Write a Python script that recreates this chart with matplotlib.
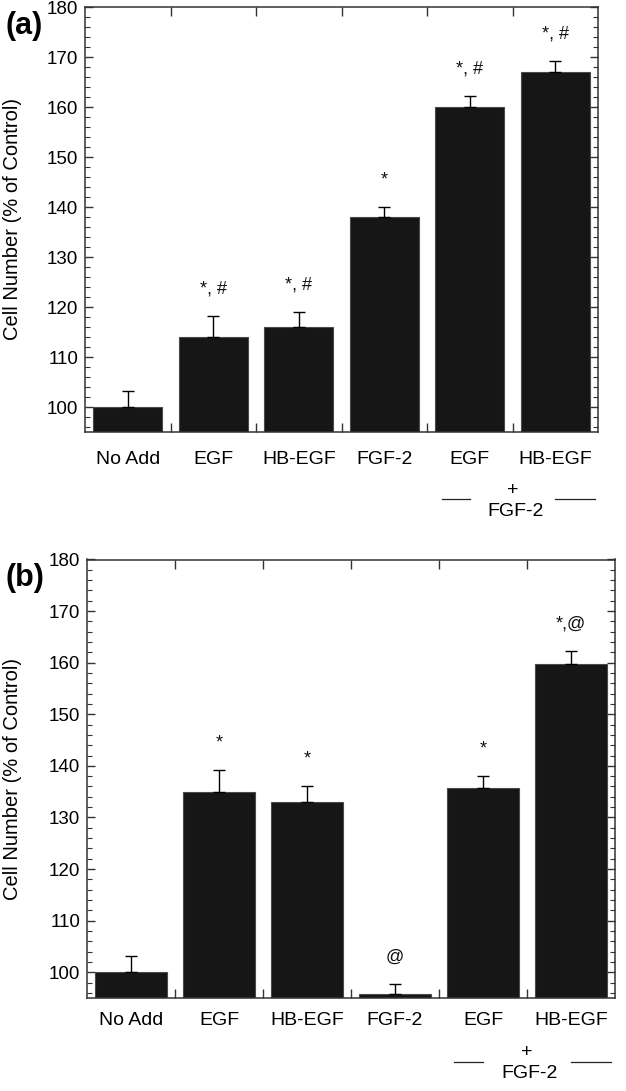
"""
Cell number (% of control) for growth factor treatments, panels (a) and (b).
"""
import matplotlib
matplotlib.use("Agg")
import matplotlib.pyplot as plt
from matplotlib.ticker import MultipleLocator, FixedLocator, NullFormatter
from matplotlib.transforms import blended_transform_factory

plt.rcParams["font.family"] = ["Liberation Sans", "DejaVu Sans"]

categories = ["No Add", "EGF", "HB-EGF", "FGF-2", "EGF", "HB-EGF"]

# panel (a)
vals_a = [100, 114, 116, 138, 160, 167]
err_a = [3.3, 4.2, 3.0, 2.0, 2.2, 2.2]
marks_a = ["", "*, #", "*, #", "*", "*, #", "*, #"]

# panel (b)
vals_b = [100, 135, 133, 95.8, 135.7, 159.7]
err_b = [3.2, 4.1, 3.0, 1.9, 2.3, 2.5]
marks_b = ["", "*", "*", "@", "*", "*,@"]

Y_MIN, Y_MAX = 95, 180
BAR_COLOR = "#161616"
AXIS_COLOR = "#333333"

fig = plt.figure(figsize=(6.26, 10.91), dpi=100)
ax_a = fig.add_axes([85 / 626, 1 - 432 / 1091, 513 / 626, 425 / 1091])
ax_b = fig.add_axes([87 / 626, 1 - 998 / 1091, 528 / 626, 438.5 / 1091])

# per panel: axes, data, tick label pad, offsets of "+" / "FGF-2" (pt), y of the side lines
panels = [
    (ax_a, vals_a, err_a, marks_a, 13.5, (-41.8, -57.6), -67 / 425),
    (ax_b, vals_b, err_b, marks_b, 10, (-39.5, -54.5), -63.5 / 438.5),
]

for ax, vals, err, marks, pad, offs, line_y in panels:
    x = list(range(len(categories)))
    ax.bar(x, vals, width=0.81, color=BAR_COLOR, edgecolor="#4a4a4a", linewidth=0.8, zorder=2)
    ax.errorbar(x, vals, yerr=[[0] * len(err), err], fmt="none", ecolor="black",
                elinewidth=1.0, capsize=4.5, capthick=1.0, zorder=3)
    for xi, v, e, m in zip(x, vals, err, marks):
        if m:
            ax.annotate(m, (xi, v + e), xytext=(0, 13.5), textcoords="offset points",
                        ha="center", va="bottom", fontsize=13, color="#111111")

    ax.set_xlim(-0.5, len(categories) - 0.5)
    ax.set_ylim(Y_MIN, Y_MAX)

    # labels at bar centres, separator ticks between the bars
    ax.set_xticks(x)
    ax.set_xticklabels(categories, fontsize=14)
    ax.tick_params(axis="x", which="major", length=0, pad=pad)
    ax.xaxis.set_minor_locator(FixedLocator([i + 0.5 for i in x[:-1]]))
    ax.xaxis.set_minor_formatter(NullFormatter())
    ax.tick_params(axis="x", which="minor", direction="in", length=6.5, width=1.0,
                   top=True, bottom=True, color=AXIS_COLOR)

    ax.yaxis.set_major_locator(MultipleLocator(10))
    ax.yaxis.set_minor_locator(MultipleLocator(2))
    ax.tick_params(axis="y", which="major", direction="in", length=6, width=1.0,
                   left=True, right=True, labelsize=13.5, pad=5, color=AXIS_COLOR)
    ax.tick_params(axis="y", which="minor", direction="in", length=3.5, width=0.8,
                   left=True, right=True, color=AXIS_COLOR)
    for s in ax.spines.values():
        s.set_color(AXIS_COLOR)
        s.set_linewidth(1.1)
    ax.set_ylabel("Cell Number (% of Control)", fontsize=14.5)
    ax.yaxis.set_label_coords(-0.123, 0.5)

    # "+ FGF-2" group label under the last two bars
    trans = blended_transform_factory(ax.transData, ax.transAxes)
    ax.annotate("+", (4.5, 0), xycoords=trans, xytext=(0, offs[0]), textcoords="offset points",
                ha="center", va="center", fontsize=14, annotation_clip=False)
    ax.annotate("FGF-2", (4.5, 0), xycoords=trans, xytext=(2, offs[1]), textcoords="offset points",
                ha="center", va="center", fontsize=14, annotation_clip=False)
    for x0, x1 in [(3.67, 4.0), (5.0, 5.46)]:
        ax.plot([x0, x1], [line_y, line_y], transform=trans, color="#222222",
                lw=0.9, clip_on=False)

fig.text(24 / 626, 1 - 26 / 1091, "(a)", fontsize=22, fontweight="bold", ha="center", va="center")
fig.text(25 / 626, 1 - 578 / 1091, "(b)", fontsize=22, fontweight="bold", ha="center", va="center")

fig.savefig("out.png", dpi=100)
